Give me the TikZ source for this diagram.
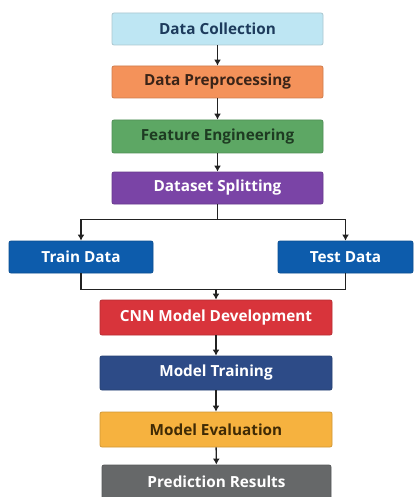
\documentclass[tikz,border=0pt]{standalone}
\usepackage{fontspec}
\setmainfont{Open Sans}
\usetikzlibrary{arrows.meta,calc}
\definecolor{cDC}{HTML}{BEE6F3}
\definecolor{tDC}{HTML}{1D3B5C}
\definecolor{cDP}{HTML}{F4925A}
\definecolor{tDP}{HTML}{3A2418}
\definecolor{cFE}{HTML}{5DA764}
\definecolor{tFE}{HTML}{1E3B22}
\definecolor{cDS}{HTML}{7A44A6}
\definecolor{cTT}{HTML}{0D5CAC}
\definecolor{cCNN}{HTML}{D8343B}
\definecolor{cMT}{HTML}{2D4B87}
\definecolor{cME}{HTML}{F6B23F}
\definecolor{tME}{HTML}{3F2A05}
\definecolor{cPR}{HTML}{666869}
\definecolor{lineC}{HTML}{222222}
\begin{document}
\begin{tikzpicture}[x=1pt,y=-1pt,
  box/.style={rectangle, rounded corners=2pt, font=\bfseries\fontsize{15.3}{17}\selectfont, inner sep=0pt, line width=0.8pt},
  arr/.style={draw=lineC, line width=1.4pt, -{Latex[length=6pt,width=7pt]}},
  ln/.style={draw=lineC, line width=1.4pt}]
\useasboundingbox[fill=white] (0,0) rectangle (415,497);
\node[box, fill=cDC, draw=cDC!70!gray, text=tDC, minimum width=211pt, minimum height=32pt] (dc) at (217.5,29) {Data Collection};
\node[box, fill=cDP, draw=cDP!85!black, text=tDP, minimum width=211pt, minimum height=32pt] (dp) at (217.5,82) {Data Preprocessing};
\node[box, fill=cFE, draw=cFE!85!black, text=tFE, minimum width=211pt, minimum height=33pt] (fe) at (217.5,136.5) {Feature Engineering};
\node[box, fill=cDS, draw=cDS!85!black, text=white, minimum width=211pt, minimum height=32pt] (ds) at (217.5,188) {Dataset Splitting};
\node[box, fill=cTT, draw=cTT!85!black, text=white, minimum width=144pt, minimum height=32pt] (train) at (81,257) {Train Data};
\node[box, fill=cTT, draw=cTT!85!black, text=white, minimum width=135pt, minimum height=32pt] (test) at (345.5,257) {Test Data};
\node[box, fill=cCNN, draw=cCNN!85!black, text=white, minimum width=232pt, minimum height=35pt] (cnn) at (216,317.5) {CNN Model Development};
\node[box, fill=cMT, draw=cMT!85!black, text=white, minimum width=232pt, minimum height=34pt] (mt) at (216,373) {Model Training};
\node[box, fill=cME, draw=cME!85!black, text=tME, minimum width=232pt, minimum height=35pt] (me) at (216,429.5) {Model Evaluation};
\node[box, fill=cPR, draw=cPR!85!black, text=white, minimum width=229pt, minimum height=34pt] (pr) at (216.5,482) {Prediction Results};
\draw[arr] (dc) -- (dp);
\draw[arr] (dp) -- (fe);
\draw[arr] (fe) -- (ds);
\coordinate (sj) at ([yshift=-15pt]ds.south);
\draw[ln] (ds.south) -- (sj);
\draw[arr] (sj) -| (train.north);
\draw[arr] (sj) -| (test.north);
\coordinate (mj) at ([yshift=-16pt]train.south);
\draw[ln] (train.south) -- (mj) -- (mj -| test.south) -- (test.south);
\draw[arr] (mj -| cnn.north) -- (cnn.north);
\draw[arr] (cnn) -- (mt);
\draw[arr] (mt) -- (me);
\draw[arr] (me) -- (pr);
\end{tikzpicture}
\end{document}
